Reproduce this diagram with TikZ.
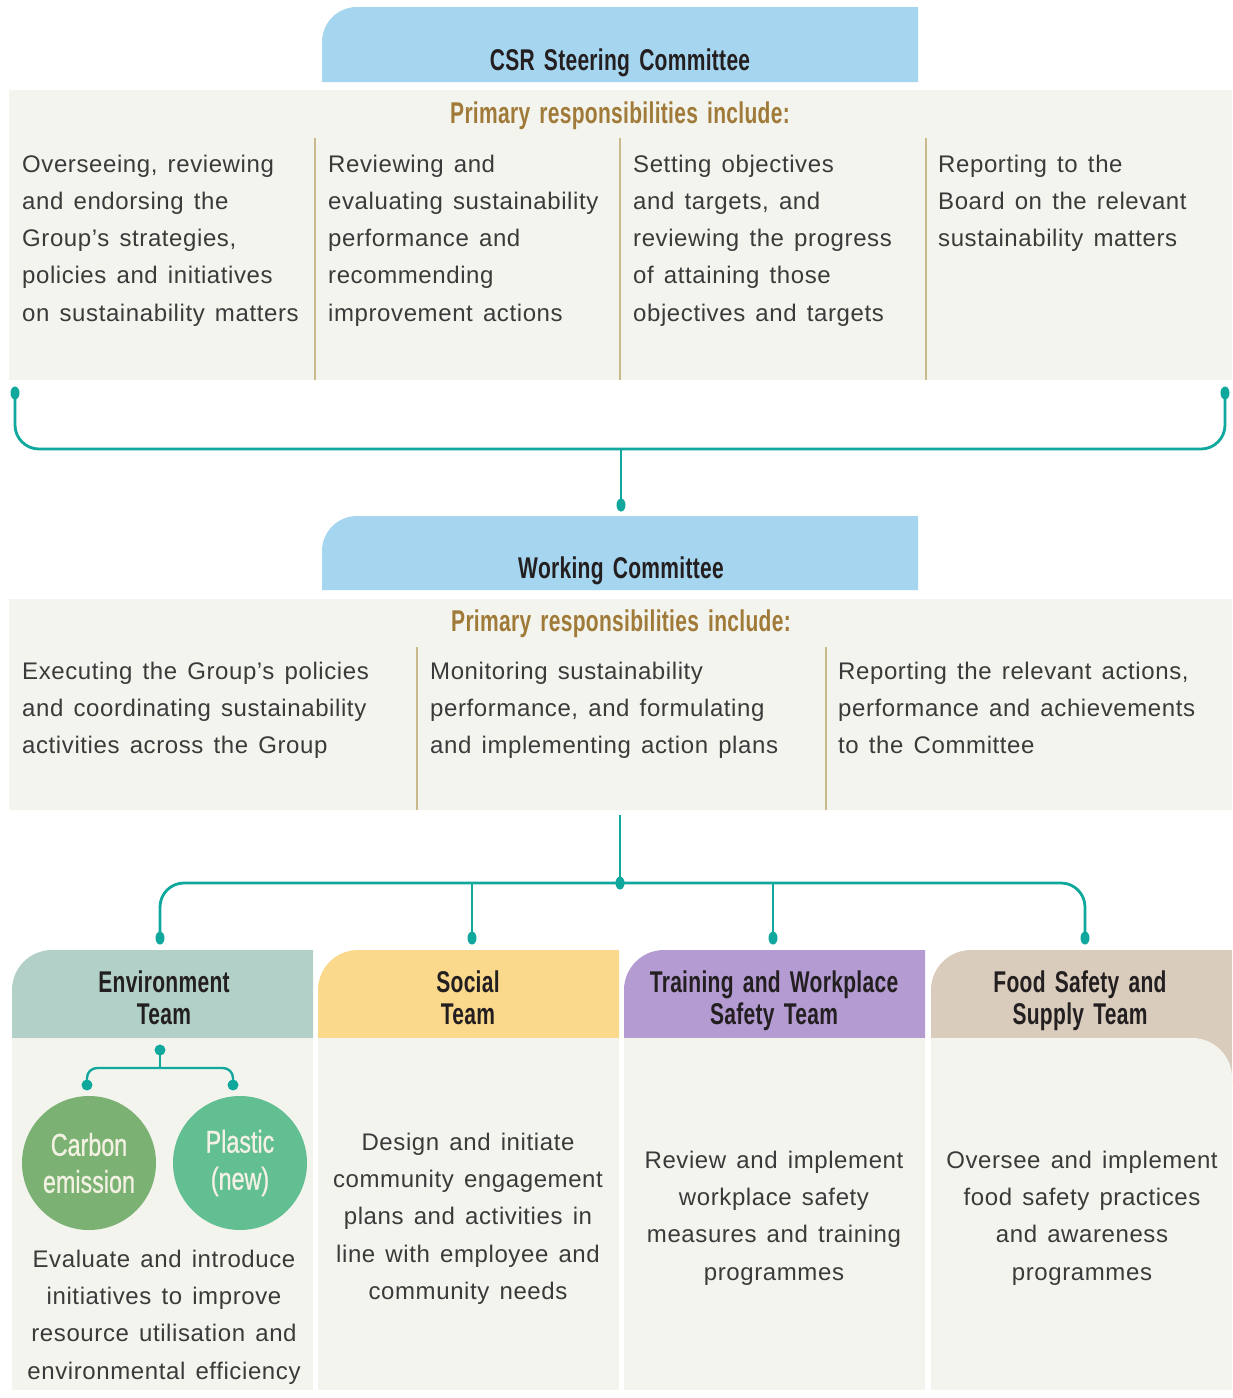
\documentclass[tikz,border=0pt]{standalone}
\usepackage{fontspec}
\setmainfont{Liberation Sans}
\newfontfamily\bodyfam[LetterSpace=2.5,WordSpace=1.4]{Liberation Sans}
\newfontfamily\headfam[FakeStretch=0.7,LetterSpace=1,WordSpace=1.5]{Liberation Sans}
\newfontfamily\circfam[FakeStretch=0.74,FakeBold=0.8]{Liberation Sans}
\usetikzlibrary{shapes.geometric}
\definecolor{panelc}{HTML}{F4F4EE}
\definecolor{divc}{HTML}{C8BA8A}
\definecolor{tealc}{HTML}{10A89C}
\definecolor{csrblue}{HTML}{A6D5EF}
\definecolor{envc}{HTML}{B2D0C8}
\definecolor{socc}{HTML}{FBD98C}
\definecolor{trainc}{HTML}{B49BD2}
\definecolor{foodc}{HTML}{D9CCBC}
\definecolor{carbonc}{HTML}{7BB274}
\definecolor{plasticc}{HTML}{62BF91}
\definecolor{goldc}{HTML}{A07A38}
\definecolor{headblack}{HTML}{231F20}
\definecolor{bodytext}{HTML}{3A3A3A}
\definecolor{circtext}{HTML}{F3F1E2}
\begin{document}
\begin{tikzpicture}[x=1pt,y=-1pt,
  body/.style={inner sep=0, font=\bodyfam\fontsize{24}{37.3}\selectfont, text=bodytext},
  bodyL/.style={body, align=left, anchor=north west},
  bodyC/.style={body, align=center, anchor=north},
  headtxt/.style={inner sep=0, font=\headfam\bfseries\fontsize{30}{32}\selectfont, text=headblack},
  primtxt/.style={headtxt, text=goldc, anchor=base},
  teamtxt/.style={headtxt, align=center, anchor=north},
  circtxt/.style={circle, inner sep=0, minimum size=134pt, align=center, font=\circfam\fontsize{31.5}{37}\selectfont, text=circtext},
  conn/.style={draw=tealc, line width=2.8pt},
  thinconn/.style={draw=tealc, line width=2.4pt},
  dot/.style={ellipse, fill=tealc, inner sep=0, minimum width=9pt, minimum height=13pt},
  sdot/.style={circle, fill=tealc, inner sep=0, minimum size=11pt},
  divider/.style={draw=divc, line width=1.6pt}
]
\useasboundingbox (0,0) rectangle (1232,1398);
\fill[white] (0,0) rectangle (1232,1398);

% ---------- CSR Steering Committee ----------
\fill[csrblue] (322,82) -- (322,42) arc[start angle=180,end angle=270,radius=35] -- (918,7) -- (918,82) -- cycle;
\node[headtxt, anchor=base] (csr) at (620,70) {CSR Steering Committee};
\fill[panelc] (9,90) rectangle (1232,380);
\node[primtxt] (p1) at (620,123) {Primary responsibilities include:};
\draw[divider] (315,138) -- (315,380);
\draw[divider] (620,138) -- (620,380);
\draw[divider] (926,138) -- (926,380);
\node[bodyL] (c1) at (22,154.5) {Overseeing, reviewing\\and endorsing the\\Group’s strategies,\\policies and initiatives\\on sustainability matters};
\node[bodyL] (c2) at (328,154.5) {Reviewing and\\evaluating sustainability\\performance and\\recommending\\improvement actions};
\node[bodyL] (c3) at (633,154.5) {Setting objectives\\and targets, and\\reviewing the progress\\of attaining those\\objectives and targets};
\node[bodyL] (c4) at (938,154.5) {Reporting to the\\Board on the relevant\\sustainability matters};

% ---------- connector 1 ----------
\node[dot] (d1L) at (15,393) {};
\node[dot] (d1R) at (1225,393) {};
\node[dot] (d1C) at (621,505) {};
\coordinate (j1) at (621,449);
\draw[conn, rounded corners=24] (d1L.center) -- (d1L.center |- j1) -- (d1R.center |- j1) -- (d1R.center);
\draw[conn] (j1) -- (d1C.center);

% ---------- Working Committee ----------
\fill[csrblue] (322,590) -- (322,551) arc[start angle=180,end angle=270,radius=35] -- (918,516) -- (918,590) -- cycle;
\node[headtxt, anchor=base] (wc) at (621,578) {Working Committee};
\fill[panelc] (9,599) rectangle (1232,810);
\node[primtxt] (p2) at (621,631) {Primary responsibilities include:};
\draw[divider] (417,647) -- (417,810);
\draw[divider] (826,647) -- (826,810);
\node[bodyL] (w1) at (22,661.5) {Executing the Group’s policies\\and coordinating sustainability\\activities across the Group};
\node[bodyL] (w2) at (430,661.5) {Monitoring sustainability\\performance, and formulating\\and implementing action plans};
\node[bodyL] (w3) at (838,661.5) {Reporting the relevant actions,\\performance and achievements\\to the Committee};

% ---------- connector 2 ----------
\coordinate (wtop) at (620,815);
\node[dot] (j2) at (620,883) {};
\node[dot] (dE) at (160,938) {};
\node[dot] (dS) at (472,938) {};
\node[dot] (dT) at (773,938) {};
\node[dot] (dF) at (1085,938) {};
\draw[conn] (wtop) -- (j2.center);
\draw[conn, rounded corners=24] (dE.center) -- (dE.center |- j2.center) -- (dF.center |- j2.center) -- (dF.center);
\draw[thinconn] (dS.center |- j2.center) -- (dS.center);
\draw[thinconn] (dT.center |- j2.center) -- (dT.center);

% ---------- team headers ----------
\fill[envc] (12,1038) -- (12,990) arc[start angle=180,end angle=270,radius=40] -- (313,950) -- (313,1038) -- cycle;
\fill[socc] (318,1038) -- (318,990) arc[start angle=180,end angle=270,radius=40] -- (619,950) -- (619,1038) -- cycle;
\fill[trainc] (624,1038) -- (624,990) arc[start angle=180,end angle=270,radius=40] -- (925,950) -- (925,1038) -- cycle;
\fill[foodc] (931,1084) -- (931,990) arc[start angle=180,end angle=270,radius=40] -- (1232,950) -- (1232,1084) -- cycle;
\node[teamtxt] (envh) at (164,970.5) {Environment\\Team};
\node[teamtxt] (soch) at (468,970.5) {Social\\Team};
\node[teamtxt] (trainh) at (774,970.5) {Training and Workplace\\Safety Team};
\node[teamtxt] (foodh) at (1080,970.5) {Food Safety and\\Supply Team};

% ---------- team bodies ----------
\fill[panelc] (12,1038) rectangle (313,1390);
\fill[panelc] (318,1038) rectangle (619,1390);
\fill[panelc] (624,1038) rectangle (925,1390);
\fill[panelc] (931,1038) -- (1192,1038) arc[start angle=270,end angle=360,radius=40] -- (1232,1390) -- (931,1390) -- cycle;

% environment sub-connector and circles
\node[sdot] (e0) at (160,1050) {};
\node[sdot] (e1) at (87,1085) {};
\node[sdot] (e2) at (233,1085) {};
\coordinate (ej) at (160,1068);
\draw[thinconn] (e0.center) -- (ej);
\draw[thinconn, rounded corners=10] (e1.center) -- (e1.center |- ej) -- (e2.center |- ej) -- (e2.center);
\node[circtxt, fill=carbonc] (carbon) at (89,1163) {Carbon\\emission};
\node[circtxt, fill=plasticc] (plastic) at (240,1163) {Plastic\\(new)};

\node[bodyC] (envb) at (164,1249.5) {Evaluate and introduce\\initiatives to improve\\resource utilisation and\\environmental efficiency};
\node[bodyC] (socb) at (468,1132.5) {Design and initiate\\community engagement\\plans and activities in\\line with employee and\\community needs};
\node[bodyC] (trainb) at (774,1150.5) {Review and implement\\workplace safety\\measures and training\\programmes};
\node[bodyC] (foodb) at (1082,1150.5) {Oversee and implement\\food safety practices\\and awareness\\programmes};
\end{tikzpicture}
\end{document}
